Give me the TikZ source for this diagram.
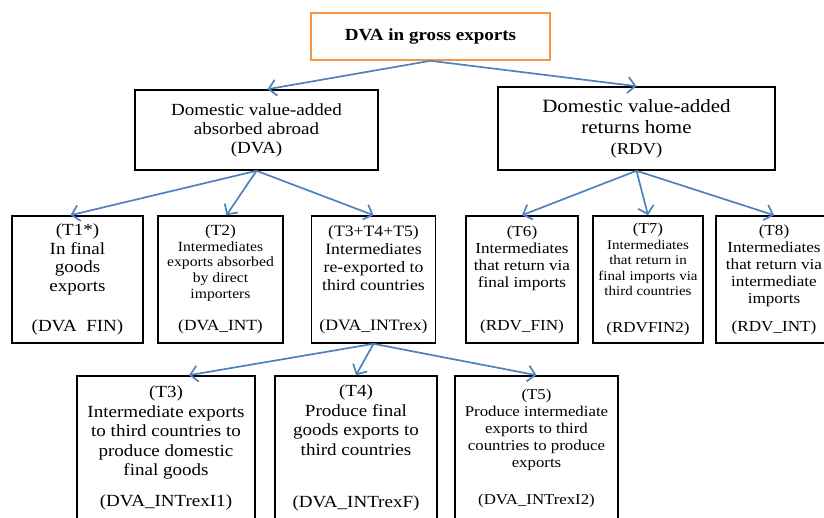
\documentclass[tikz,border=0pt]{standalone}
\usepackage{fontspec}
\setmainfont{Liberation Serif}[FakeStretch=1.12]
\usetikzlibrary{arrows.meta}
\definecolor{azulFlecha}{RGB}{79,129,189}
\definecolor{naranjaRaiz}{RGB}{247,150,70}
\newcommand{\fs}[2]{\fontsize{#1}{#2}\selectfont}
\newcommand{\sm}{\fs{14}{15.7}}
\newcommand{\tn}{\fs{13.4}{15.5}}

\begin{document}
\begin{tikzpicture}[x=1pt, y=-1pt,
            celda/.style={rectangle, draw=black, line width=1.6pt, align=center, inner sep=0pt},
            raiz/.style={celda, draw=naranjaRaiz, font=\bfseries\fs{17}{19}},
            nivel/.style={celda, minimum height=127pt},
            hoja/.style={celda, minimum height=144pt},
            flecha/.style={-{Straight Barb[length=7.5pt,width=16pt]}, line width=1.7pt, azulFlecha}]

            \clip (0,0) rectangle (824,517);

            \node[raiz, minimum width=239pt, minimum height=47pt] (root) at (430.5,36.5) {DVA in gross exports};

            \node[celda, font=\fs{17}{19}, minimum width=243pt, minimum height=80pt] (dva) at (256.5,130) {Domestic value-added\\absorbed abroad\\(DVA)};
            \node[celda, font=\fs{18.75}{21}, minimum width=277pt, minimum height=83pt] (rdv) at (636.5,128.5) {Domestic value-added\\returns home\\\fs{16.7}{21}(RDV)};

            \node[nivel, font=\fs{17}{18.5}, minimum width=131pt] (t1) at (77.5,279.5) {(T1*)\\In final\\goods\\exports\\[22pt](DVA\ \ FIN)};
            \node[nivel, font=\fs{15.5}{15.7}, minimum width=125pt] (t2) at (220.5,279.5) {(T2)\\\sm Intermediates\\\sm exports absorbed\\\sm by direct\\\sm importers\\[17pt](DVA\_INT)};
            \node[nivel, font=\fs{15.8}{18}, minimum width=124pt] (t345) at (373.5,279.5) {(T3+T4+T5)\\Intermediates\\re-exported to\\third countries\\[22pt](DVA\_INTrex)};
            \node[nivel, font=\fs{15.3}{17}, minimum width=112pt] (t6) at (522,279.5) {(T6)\\Intermediates\\that return via\\final imports\\[26pt](RDV\_FIN)};
            \node[nivel, font=\fs{15.2}{15.5}, minimum width=110pt] (t7) at (648,279.5) {(T7)\\\tn Intermediates\\\tn that return in\\\tn final imports via\\\tn third countries\\[21.5pt](RDVFIN2)};
            \node[nivel, font=\fs{15.3}{17}, minimum width=116pt] (t8) at (774,279.5) {(T8)\\Intermediates\\that return via\\intermediate\\imports\\[11pt](RDV\_INT)};

            \node[hoja, font=\fs{17}{19.5}, minimum width=178pt] (t3) at (166,448) {(T3)\\Intermediate exports\\to third countries to\\produce domestic\\final goods\\[11.5pt](DVA\_INTrexI1)};
            \node[hoja, font=\fs{17}{19.5}, minimum width=162pt] (t4) at (356,448) {(T4)\\Produce final\\goods exports to\\third countries\\[32.5pt](DVA\_INTrexF)};
            \node[hoja, font=\fs{15}{17}, minimum width=163pt] (t5) at (536.5,448) {(T5)\\Produce intermediate\\exports to third\\countries to produce\\exports\\[20pt](DVA\_INTrexI2)};

            % level 1
            \draw[flecha] (root.south) -- ([xshift=11pt]dva.north);
            \draw[flecha] (root.south) -- (rdv.north);
            % level 2
            \draw[flecha] (dva.south) -- ([xshift=-7pt]t1.north);
            \draw[flecha] (dva.south) -- ([xshift=6pt]t2.north);
            \draw[flecha] (dva.south) -- (t345.north);
            \draw[flecha] (rdv.south) -- (t6.north);
            \draw[flecha] (rdv.south) -- (t7.north);
            \draw[flecha] (rdv.south) -- (t8.north);
            % level 3
            \draw[flecha] (t345.south) -- ([xshift=23pt]t3.north);
            \draw[flecha] (t345.south) -- (t4.north);
            \draw[flecha] (t345.south) -- (t5.north);
        \end{tikzpicture}
\end{document}
